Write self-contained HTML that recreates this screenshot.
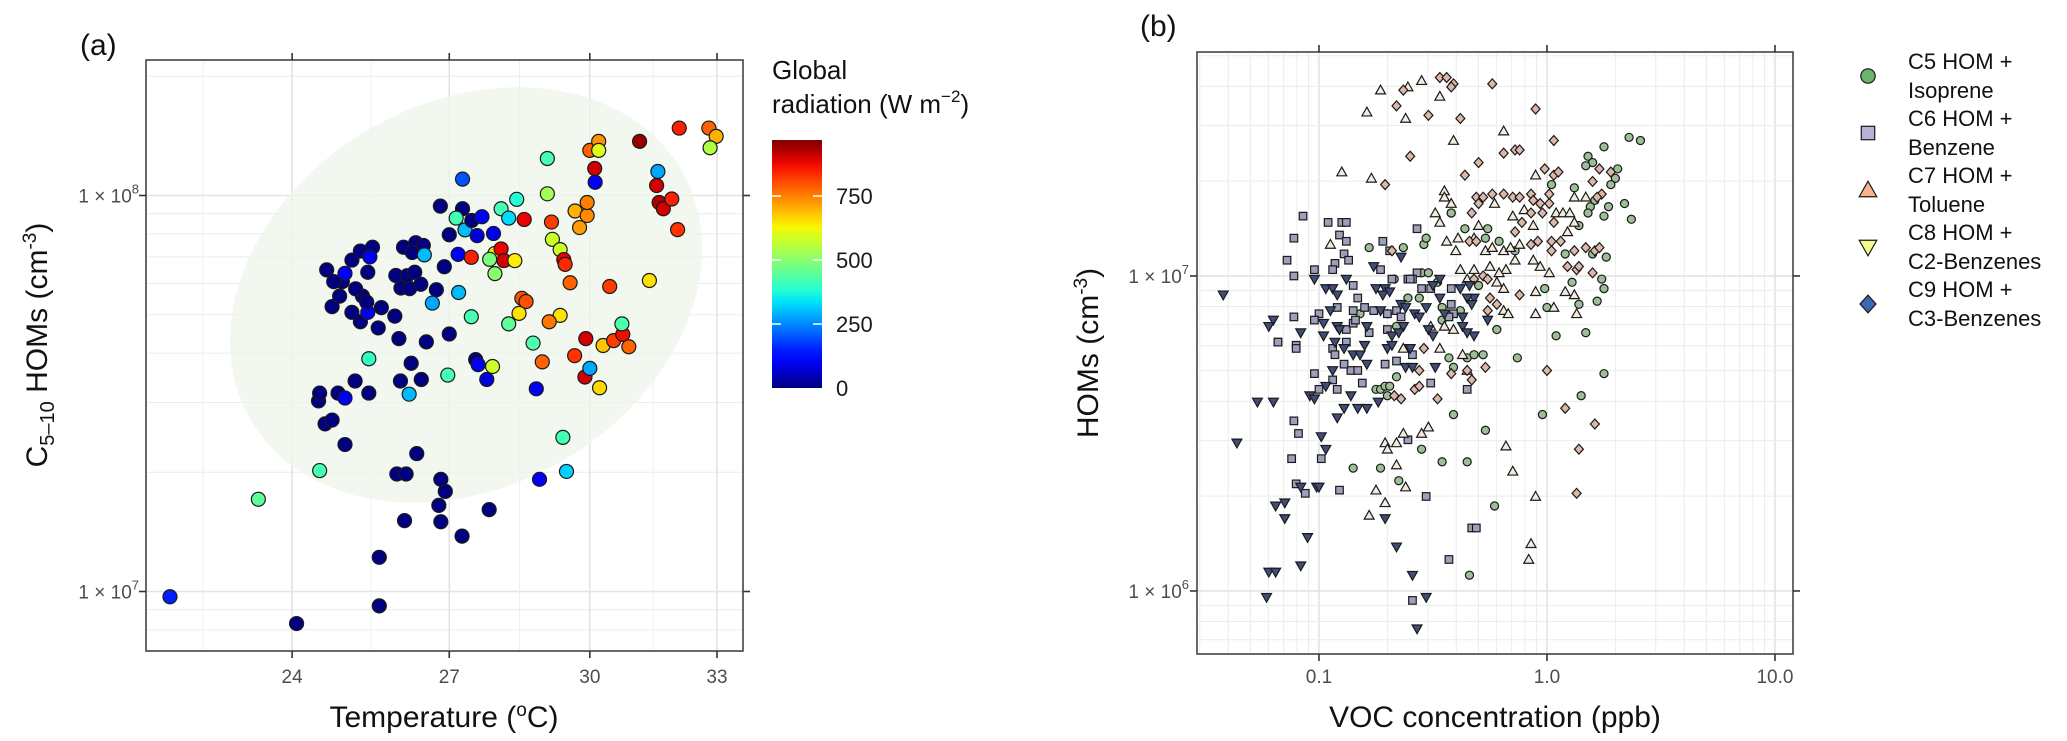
<!DOCTYPE html>
<html><head><meta charset="utf-8"><style>
html,body{margin:0;padding:0;background:#fff;}
svg{display:block;font-family:"Liberation Sans",Arial,sans-serif;}
</style></head><body>
<svg id="fig" width="2067" height="741" viewBox="0 0 2067 741" xmlns="http://www.w3.org/2000/svg">
<defs>
<linearGradient id="jetgrad" x1="0" y1="1" x2="0" y2="0"></linearGradient>
<clipPath id="clipA"><rect x="146" y="60" width="597" height="591"/></clipPath>
<clipPath id="clipB"><rect x="1197" y="52" width="596" height="602"/></clipPath>
</defs>
<g id="panelA"></g>
<g id="panelB"></g>
</svg>
<script>
// ---------- Panel (a) data ----------
const tempC = [21.9,24.08,25.62,25.62,23.4,24.5,24.97,24.6,24.73,24.48,24.5,24.84,24.97,25.42,25.16,25.42,26.03,26.2,26.44,26.24,25.96,26.14,26.35,26.11,26.83,26.92,26.79,26.83,27.26,27.82,28.89,29.48,29.4,26.97,27.0,26.54,26.0,25.6,25.26,25.66,25.92,25.4,25.1,24.73,24.87,25.3,25.38,25.17,24.92,24.76,24.63,24.97,25.1,25.4,25.26,25.49,25.44,26.09,26.33,26.48,26.26,26.5,25.94,26.16,26.04,26.21,26.31,26.43,26.74,26.66,26.9,26.82,27.0,27.27,27.14,27.32,27.46,27.57,27.67,27.91,27.18,27.19,27.45,27.27,27.45,27.54,27.59,27.77,27.89,27.94,27.83,27.94,28.07,28.13,28.36,28.07,28.23,28.4,28.56,28.51,28.6,28.45,28.23,28.75,28.95,29.06,29.06,29.15,29.17,29.34,29.42,29.45,29.34,29.1,29.56,29.67,29.77,29.94,29.94,29.66,29.89,29.91,30.0,30.22,30.3,30.54,30.75,30.89,30.73,30.45,30.0,30.2,30.2,30.11,30.12,31.14,31.37,31.57,31.54,31.6,31.7,31.9,32.04,32.08,32.8,32.98,32.83,28.82];
const homsE7 = [0.97,0.83,0.92,1.22,1.71,2.02,2.35,2.65,2.71,3.03,3.17,3.17,3.08,3.17,3.40,3.87,3.40,3.15,3.43,3.77,1.98,1.98,2.23,1.51,1.92,1.79,1.65,1.50,1.38,1.61,1.92,2.01,2.45,3.52,4.47,4.27,4.35,4.63,4.80,5.21,4.96,5.07,5.07,5.24,5.57,5.57,5.38,5.81,6.06,6.06,6.49,6.36,6.87,6.40,7.24,7.4,7.0,7.4,7.6,7.48,7.18,7.08,6.28,6.27,5.84,5.82,6.40,5.97,5.78,5.35,6.61,9.4,7.96,9.26,8.77,8.19,8.65,7.92,8.84,8.02,7.1,5.69,6.98,11.0,4.94,3.85,3.74,3.43,3.70,7.14,6.9,6.35,7.33,6.85,6.85,9.26,8.77,9.78,8.7,5.5,5.4,5.04,4.74,4.24,3.8,12.4,10.1,8.57,7.75,7.3,6.89,6.7,4.98,4.8,6.02,9.14,8.3,8.9,9.6,3.94,3.48,4.35,3.66,3.27,4.18,4.3,4.46,4.15,4.74,5.89,13.0,13.7,13.0,11.7,10.8,13.7,6.1,11.5,10.6,9.6,9.26,9.8,8.2,14.8,14.8,14.1,13.2,3.25];
const radiation = [150,0,0,0,450,420,0,0,0,0,0,0,100,0,0,400,0,300,0,0,0,0,0,0,0,0,0,0,0,0,100,320,420,420,0,0,0,0,0,0,0,100,0,0,0,0,0,0,0,0,0,100,0,0,0,0,100,0,0,0,0,300,0,0,0,0,0,0,0,280,0,0,0,0,420,300,0,80,100,100,100,300,850,200,420,0,100,80,580,650,480,500,880,900,640,420,330,380,880,800,800,650,450,430,780,420,530,820,580,580,880,840,650,760,780,700,720,740,750,830,900,900,280,660,680,820,870,780,430,820,780,730,600,900,100,950,650,280,900,930,900,850,830,850,780,700,550,100];
const tempTicks = [24,27,30,33];
const tempMinor = [22.45,25.46,28.46,31.46];
const homTicksA = [1e7,1e8];
const homTickLabelsA = ["8","7"];
const radTicks = [0,250,500,750];
const radMax = 969;

// ---------- Panel (b) data (log10 VOC ppb, log10 HOMs cm-3) ----------
const c5LogVOC = [-0.42,0.25,0.18,0.20,0.17,0.31,0.30,0.02,0.12,0.21,0.28,0.27,0.19,0.18,0.25,-0.42,0.14,-0.78,-0.63,-0.54,-0.53,-0.36,-0.26,-0.27,-0.21,-0.14,0.08,0.20,0.26,0.24,0.25,0.11,0.00,0.14,0.22,0.04,0.17,-0.01,-0.55,-0.52,-0.48,-0.30,-0.38,-0.22,-0.67,-0.61,-0.56,-0.82,-0.70,-0.66,-0.46,-0.46,-0.35,-0.32,-0.28,-0.43,-0.41,-0.13,0.25,-0.66,-0.75,-0.73,-0.71,-0.69,-0.70,-0.41,-0.02,0.15,-0.27,-0.55,-0.85,-0.73,-0.46,-0.35,-0.65,-0.23,-0.34,0.36,0.41,0.34,0.37];
const c5LogHOM = [7.20,7.41,7.38,7.36,7.35,7.34,7.31,7.29,7.28,7.24,7.29,7.22,7.22,7.20,7.19,7.20,7.16,7.09,7.09,7.10,7.12,7.15,7.15,7.12,7.11,7.08,7.07,7.07,7.06,6.99,6.96,6.98,6.90,6.91,6.92,6.81,6.82,6.96,7.01,7.01,6.98,6.97,6.89,6.83,6.99,6.93,6.93,6.88,6.88,6.84,6.86,6.90,6.74,6.75,6.75,6.74,6.71,6.74,6.69,6.68,6.64,6.64,6.65,6.65,6.62,6.56,6.56,6.62,6.51,6.45,6.39,6.39,6.41,6.41,6.35,6.27,6.05,7.44,7.43,7.23,7.18];
const c6LogVOC = [-1.07,-0.96,-0.90,-0.88,-0.57,-1.11,-0.91,-0.88,-0.72,-0.89,-0.87,-0.93,-1.14,-1.11,-1.02,-0.94,-0.69,-0.57,-0.61,-0.59,-0.42,-0.42,-0.41,-0.85,-0.83,-0.73,-0.68,-0.60,-0.55,-0.51,-1.00,-1.02,-1.11,-0.92,-0.85,-0.80,-0.76,-0.70,-0.66,-0.64,-0.70,-0.88,-0.85,-0.84,-0.78,-1.18,-1.10,-0.43,-1.18,-1.10,-0.94,-0.93,-0.88,-0.59,-1.02,-0.86,-0.83,-0.89,-0.71,-0.66,-0.35,-0.81,-0.94,-1.00,-0.92,-0.51,-1.11,-1.09,-0.99,-1.12,-0.61,-1.10,-1.06,-0.91,-0.53,-0.33,-0.31,-0.43,-0.59];
const c6LogHOM = [7.19,7.17,7.17,7.17,7.15,7.12,7.13,7.11,7.11,7.07,7.05,7.04,7.05,7.00,7.02,7.02,7.08,7.01,6.99,6.99,6.96,6.91,6.88,6.97,6.93,7.02,6.99,6.99,6.96,6.96,6.88,6.86,6.87,6.90,6.89,6.90,6.89,6.88,6.89,6.87,6.83,6.83,6.85,6.86,6.82,6.79,6.78,6.87,6.79,6.77,6.77,6.75,6.79,6.75,6.69,6.70,6.70,6.72,6.72,6.73,6.64,6.66,6.67,6.64,6.64,6.66,6.54,6.50,6.42,6.42,6.48,6.34,6.31,6.32,6.30,6.20,6.20,6.10,5.97];
const c7LogVOC = [-0.73,-0.79,-0.62,-0.61,-0.55,-0.47,-0.41,-0.19,-0.77,-0.90,-0.05,0.12,0.17,-0.45,-0.45,-0.42,-0.49,-0.47,-0.23,-0.10,0.04,0.07,0.10,0.12,0.09,-0.15,-0.06,-0.95,-0.30,-0.32,-0.39,-0.44,-0.40,-0.27,-0.24,-0.19,-0.16,-0.12,-0.06,-0.03,0.01,0.08,0.12,-0.05,0.03,0.13,-0.14,-0.18,-0.25,-0.21,-0.32,-0.38,-0.35,-0.22,-0.19,-0.05,-0.19,-0.17,-0.45,-0.41,-0.51,-0.63,-0.47,-0.37,-0.35,-0.63,-0.55,-0.52,-0.71,-0.66,-0.70,-0.66,-0.18,-0.15,-0.75,-0.62,-0.05,-0.71,-0.78,-0.07,-0.08];
const c7LogHOM = [7.59,7.52,7.50,7.60,7.62,7.57,7.43,7.46,7.31,7.33,7.32,7.25,7.25,7.27,7.25,7.23,7.20,7.17,7.23,7.21,7.20,7.20,7.20,7.17,7.14,7.19,7.16,7.10,7.16,7.12,7.12,7.11,7.08,7.08,7.09,7.08,7.09,7.10,7.05,7.03,7.01,6.95,6.94,6.88,6.90,6.88,7.05,7.02,7.03,7.01,7.02,7.02,6.99,6.98,6.96,6.95,6.89,6.88,6.84,6.83,6.84,6.77,6.77,6.75,6.70,6.50,6.50,6.52,6.47,6.47,6.45,6.40,6.46,6.38,6.32,6.33,6.30,6.28,6.24,6.15,6.10];
const c8LogVOC = [-0.64,-0.47,-0.50,-0.38,-0.34,-0.32,-0.35,-0.33,-0.37,-0.26,-0.37,-0.32,-0.35,-0.76,-1.02,-0.97,-0.94,-0.92,-0.88,-0.75,-0.71,-0.72,-0.69,-0.64,-0.62,-0.58,-0.56,-0.53,-0.47,-0.95,-0.73,-0.63,-0.68,-0.65,-0.52,-0.50,-0.98,-0.92,-0.91,-0.79,-0.98,-1.08,-1.20,-1.22,-0.45,-1.42,-0.93,-0.89,-0.85,-0.82,-0.79,-0.80,-0.70,-0.68,-0.60,-0.94,-0.62,-0.59,-0.49,-0.97,-1.04,-1.02,-0.86,-0.74,-0.79,-0.83,-0.89,-0.92,-1.27,-1.20,-0.99,-0.97,-1.36,-1.08,-1.01,-1.00,-0.71,-1.19,-1.15,-1.15,-1.05,-0.66,-1.08,-1.22,-1.19,-0.59,-1.23,-0.53,-0.57];
const c8LogHOM = [7.06,6.99,6.97,6.96,6.97,6.93,6.93,6.91,6.87,6.86,6.84,6.81,6.82,7.03,6.99,6.96,6.96,6.94,6.99,6.96,6.96,6.94,6.95,6.91,6.90,6.88,6.87,6.90,6.93,6.89,6.89,6.84,6.81,6.82,6.83,6.81,6.85,6.84,6.83,6.84,6.81,6.82,6.86,6.84,6.88,6.94,6.79,6.77,6.75,6.75,6.72,6.78,6.77,6.78,6.77,6.70,6.71,6.71,6.71,6.65,6.62,6.61,6.62,6.60,6.58,6.58,6.58,6.55,6.60,6.60,6.49,6.45,6.47,6.33,6.33,6.33,6.23,6.27,6.28,6.23,6.17,6.14,6.08,6.06,6.06,6.05,5.98,5.98,5.88];
const c9LogVOC = [-0.63,-0.66,-0.52,-0.47,-0.44,-0.41,-0.42,-0.24,-0.05,-0.38,0.03,-0.60,-0.71,-0.19,-0.14,-0.12,-0.30,-0.36,0.23,0.28,0.20,-0.01,0.03,0.05,0.24,0.22,-0.33,-0.31,-0.28,-0.24,-0.30,-0.19,-0.15,-0.12,-0.07,-0.06,-0.03,0.01,0.01,-0.07,-0.02,0.03,-0.11,-0.14,-0.68,-0.34,-0.31,-0.07,-0.04,0.02,0.06,0.12,0.17,0.21,0.23,0.02,0.09,0.13,0.14,0.20,-0.32,-0.28,-0.26,-0.25,-0.22,-0.12,-0.26,-0.54,-0.35,-0.27,0.00,-0.56,-0.42,-0.33,-0.67,-0.64,-0.58,-0.56,-0.48,0.08,0.21,0.14,0.13];
const c9LogHOM = [7.59,7.54,7.51,7.63,7.63,7.61,7.60,7.61,7.53,7.50,7.43,7.38,7.29,7.39,7.40,7.40,7.36,7.32,7.34,7.33,7.30,7.34,7.32,7.33,7.26,7.25,7.20,7.25,7.25,7.26,7.23,7.26,7.25,7.25,7.26,7.24,7.23,7.26,7.23,7.20,7.20,7.17,7.17,7.14,7.08,7.11,7.11,7.10,7.11,7.11,7.11,7.08,7.09,7.08,7.09,7.08,7.03,7.02,7.03,7.01,6.99,7.00,6.99,6.93,6.91,6.94,6.89,6.77,6.70,6.71,6.70,6.70,6.69,6.67,6.62,6.61,6.64,6.65,6.61,6.58,6.53,6.45,6.31];
const vocTicks = [-1,0,1];
const vocTickLabels = ["0.1","1.0","10.0"];
const homTicksB = [6,7];
const legendLabels1 = ["C5 HOM +","C6 HOM +","C7 HOM +","C8 HOM +","C9 HOM +"];
const legendLabels2 = ["Isoprene","Benzene","Toluene","C2-Benzenes","C3-Benzenes"];

const NS = "http://www.w3.org/2000/svg";
function el(tag, parent, attrs){ const e=document.createElementNS(NS,tag); for(const k in attrs) e.setAttribute(k,attrs[k]); parent.appendChild(e); return e; }

function jet(t){
  t=Math.max(0,Math.min(1,t));
  function pw(pts){ for(let i=0;i<pts.length-1;i++){ const a=pts[i],b=pts[i+1]; if(t>=a[0]&&t<=b[0]) return a[1]+(b[1]-a[1])*(t-a[0])/(b[0]-a[0]); } return pts[pts.length-1][1]; }
  const r=pw([[0,0],[0.35,0],[0.66,1],[0.89,1],[1,0.5]]);
  const g=pw([[0,0],[0.125,0],[0.375,1],[0.64,1],[0.91,0],[1,0]]);
  const b=pw([[0,0.5],[0.11,1],[0.34,1],[0.65,0],[1,0]]);
  return "rgb("+Math.round(r*255)+","+Math.round(g*255)+","+Math.round(b*255)+")";
}

// ================= PANEL A =================
const A = document.getElementById('panelA');
const aL=146,aR=743,aT=60,aB=651;
const tMin=21.51,tMax=33.65;
function xA(t){ return aL + (Math.log(t)-Math.log(tMin))/(Math.log(tMax)-Math.log(tMin))*(aR-aL); }
function yA(h){ return 195.5 - 396*(Math.log10(h)-8); }   // h in cm^-3

el('rect',A,{x:aL,y:aT,width:aR-aL,height:aB-aT,fill:'#fff'});
const gridA = el('g',A,{'clip-path':'url(#clipA)'});


for(let n=6;n<=8;n++) for(let k=1;k<=9;k++){
  const v=k*Math.pow(10,n), y=yA(v);
  if(y<aT||y>aB) continue;
  const ln=el('line',gridA,{x1:aL,x2:aR,y1:y,y2:y,stroke:k===1?'#e3e3e3':'#ececec','stroke-width':k===1?1.6:1});
  
  
}
tempMinor.forEach(t=>{ const x=xA(t); const ln=el('line',gridA,{x1:x,x2:x,y1:aT,y2:aB,stroke:'#efefef','stroke-width':1});
  
   });
tempTicks.forEach(t=>{ const x=xA(t); const ln=el('line',gridA,{x1:x,x2:x,y1:aT,y2:aB,stroke:'#e3e3e3','stroke-width':1.6});
  
   });

const ell = el('ellipse',gridA,{cx:466,cy:295,rx:249,ry:192,transform:'rotate(-30 466 295)',fill:'#eef5ea','fill-opacity':0.75});



const ptsA = el('g',A,{'clip-path':'url(#clipA)'});


const nA=Math.min(tempC.length,homsE7.length,radiation.length);
for(let i=0;i<nA;i++){
  const c=el('circle',ptsA,{cx:xA(tempC[i]),cy:yA(homsE7[i]*1e7),r:7,fill:jet(radiation[i]/radMax),stroke:'#1a1a1a','stroke-width':1.2});
  
  
}
const frameA=el('rect',A,{x:aL,y:aT,width:aR-aL,height:aB-aT,fill:'none',stroke:'#444','stroke-width':1.6});



tempTicks.forEach(t=>{
  const x=xA(t);
  el('line',A,{x1:x,x2:x,y1:aB,y2:aB+7,stroke:'#333','stroke-width':1.6});
  el('line',A,{x1:x,x2:x,y1:aT,y2:aT-7,stroke:'#333','stroke-width':1.6});
  const tx=el('text',A,{x:x,y:683,'text-anchor':'middle','font-size':19,fill:'#4d4d4d'});
  tx.textContent=String(t);
  
  
});
homTicksA.forEach((v,i)=>{
  const y=yA(v);
  el('line',A,{x1:aL-7,x2:aL,y1:y,y2:y,stroke:'#333','stroke-width':1.6});
  el('line',A,{x1:aR,x2:aR+7,y1:y,y2:y,stroke:'#333','stroke-width':1.6});
  const tx=el('text',A,{x:139,y:y+7,'text-anchor':'end','font-size':19,fill:'#4d4d4d'});
  tx.innerHTML='1 × 10<tspan dy="-9" font-size="13">'+String(Math.round(Math.log10(v)))+'</tspan>';
  
  
});

// colorbar
const grad=document.getElementById('jetgrad');
for(let s=0;s<=20;s++){ el('stop',grad,{offset:(s/20),'stop-color':jet(s/20)}); }
const cbT=140,cbB=388,cbL=772,cbW=50;
const cb=el('rect',A,{x:cbL,y:cbT,width:cbW,height:cbB-cbT,fill:'url(#jetgrad)'});


function yCB(v){ return cbB-(v/radMax)*(cbB-cbT); }
radTicks.forEach(v=>{
  const y=yCB(v);
  if(v>0){ el('line',A,{x1:cbL,x2:cbL+9,y1:y,y2:y,stroke:'#fff','stroke-width':1.5});
           el('line',A,{x1:cbL+cbW-9,x2:cbL+cbW,y1:y,y2:y,stroke:'#fff','stroke-width':1.5}); }
  const tx=el('text',A,{x:836,y:y+8,'font-size':22,fill:'#1a1a1a'});
  tx.textContent=String(v);
  
  
});
const cbt1=el('text',A,{x:772,y:79,'font-size':26,fill:'#111'}); cbt1.textContent='Global';


const cbt2=el('text',A,{x:772,y:113,'font-size':26,fill:'#111'});
cbt2.innerHTML='radiation (W m<tspan dy="-11" font-size="17">−2</tspan><tspan dy="11">)</tspan>';



const la=el('text',A,{x:80,y:55,'font-size':30,fill:'#111'}); la.textContent='(a)';


const xta=el('text',A,{x:444,y:727,'text-anchor':'middle','font-size':30,fill:'#111'});
xta.innerHTML='Temperature (<tspan dy="-11" font-size="19">o</tspan><tspan dy="11">C)</tspan>';


const yta=el('text',A,{x:0,y:0,'text-anchor':'middle','font-size':30,fill:'#111',transform:'translate(47,345) rotate(-90)'});
yta.innerHTML='C<tspan dy="7" font-size="20">5–10</tspan><tspan dy="-7"> HOMs (cm</tspan><tspan dy="-11" font-size="19">-3</tspan><tspan dy="11">)</tspan>';



// ================= PANEL B =================
const B=document.getElementById('panelB');
const bL=1197,bR=1793,bT=52,bB=654;
const lvMin=-1.535,lvMax=1.079,lhMax=7.711;
function xB(lv){ return bL+(lv-lvMin)/(lvMax-lvMin)*(bR-bL); }
function yB(lh){ return bT+(lhMax-lh)*315; }
el('rect',B,{x:bL,y:bT,width:bR-bL,height:bB-bT,fill:'#fff'});
const gridB=el('g',B,{'clip-path':'url(#clipB)'});


for(let n=-2;n<=1;n++) for(let k=1;k<=9;k++){
  const x=xB(n+Math.log10(k)); if(x<bL||x>bR) continue;
  const ln=el('line',gridB,{x1:x,x2:x,y1:bT,y2:bB,stroke:k===1?'#e3e3e3':'#ececec','stroke-width':k===1?1.6:1});
  
  
}
for(let n=5;n<=7;n++) for(let k=1;k<=9;k++){
  const y=yB(n+Math.log10(k)); if(y<bT||y>bB) continue;
  const ln=el('line',gridB,{x1:bL,x2:bR,y1:y,y2:y,stroke:k===1?'#e3e3e3':'#ececec','stroke-width':k===1?1.6:1});
  
  
}
function marker(parent,type,x,y,s,fill){
  let e;
  if(type==='c') e=el('circle',parent,{cx:x,cy:y,r:s*0.45,fill:fill,stroke:'#1a1a1a','stroke-width':1.2});
  else if(type==='s') e=el('rect',parent,{x:x-s*0.42,y:y-s*0.42,width:s*0.84,height:s*0.84,fill:fill,stroke:'#1a1a1a','stroke-width':1.2});
  else if(type==='t') e=el('polygon',parent,{points:[x,y-s*0.55,x+s*0.55,y+s*0.42,x-s*0.55,y+s*0.42].join(' '),fill:fill,stroke:'#1a1a1a','stroke-width':1.2});
  else if(type==='v') e=el('polygon',parent,{points:[x,y+s*0.55,x+s*0.55,y-s*0.42,x-s*0.55,y-s*0.42].join(' '),fill:fill,stroke:'#1a1a1a','stroke-width':1.2});
  else e=el('polygon',parent,{points:[x,y-s*0.55,x+s*0.5,y,x,y+s*0.55,x-s*0.5,y].join(' '),fill:fill,stroke:'#1a1a1a','stroke-width':1.2});
  return e;
}
const ptsB=el('g',B,{'clip-path':'url(#clipB)'});


const seriesB=[
  {t:'c',xs:c5LogVOC,ys:c5LogHOM,fill:'#9cbf96',name:'c5-isoprene-point'},
  {t:'s',xs:c6LogVOC,ys:c6LogHOM,fill:'#9d9fbb',name:'c6-benzene-point'},
  {t:'t',xs:c7LogVOC,ys:c7LogHOM,fill:'#f3ecdc',name:'c7-toluene-point'},
  {t:'d',xs:c9LogVOC,ys:c9LogHOM,fill:'#ddb7a8',name:'c9-c3-benzenes-point'},
  {t:'v',xs:c8LogVOC,ys:c8LogHOM,fill:'#3f4d7c',name:'c8-c2-benzenes-point'}
];
seriesB.forEach(sr=>{
  const n=Math.min(sr.xs.length,sr.ys.length);
  for(let i=0;i<n;i++){
    const m=marker(ptsB,sr.t,xB(sr.xs[i]),yB(sr.ys[i]),9,sr.fill);
    
    
  }
});
const frameB=el('rect',B,{x:bL,y:bT,width:bR-bL,height:bB-bT,fill:'none',stroke:'#444','stroke-width':1.6});


vocTicks.forEach((v,i)=>{
  const x=xB(v);
  el('line',B,{x1:x,x2:x,y1:bB,y2:bB+7,stroke:'#333','stroke-width':1.6});
  el('line',B,{x1:x,x2:x,y1:bT,y2:bT-7,stroke:'#333','stroke-width':1.6});
  const tx=el('text',B,{x:x,y:683,'text-anchor':'middle','font-size':19,fill:'#4d4d4d'});
  tx.textContent=vocTickLabels[i];
  
  
});
homTicksB.forEach(v=>{
  const y=yB(v);
  el('line',B,{x1:bL-7,x2:bL,y1:y,y2:y,stroke:'#333','stroke-width':1.6});
  el('line',B,{x1:bR,x2:bR+7,y1:y,y2:y,stroke:'#333','stroke-width':1.6});
  const tx=el('text',B,{x:1189,y:y+7,'text-anchor':'end','font-size':19,fill:'#4d4d4d'});
  tx.innerHTML='1 × 10<tspan dy="-9" font-size="13">'+String(v)+'</tspan>';
  
  
});
const lb=el('text',B,{x:1140,y:36,'font-size':30,fill:'#111'}); lb.textContent='(b)';


const xtb=el('text',B,{x:1495,y:727,'text-anchor':'middle','font-size':30,fill:'#111'}); xtb.textContent='VOC concentration (ppb)';


const ytb=el('text',B,{x:0,y:0,'text-anchor':'middle','font-size':30,fill:'#111',transform:'translate(1098,353) rotate(-90)'});
ytb.innerHTML='HOMs (cm<tspan dy="-11" font-size="19">-3</tspan><tspan dy="11">)</tspan>';



// legend
const legTypes=['c','s','t','v','d'];
const legFills=['#6db36d','#b9b2d8','#f5b48e','#f7f78f','#3c67b1'];
const leg=el('g',B,{});


legTypes.forEach((t,i)=>{
  const sy=76+i*57;
  const m=marker(leg,t,1868,sy,16,legFills[i]);
  
  
  const t1=el('text',leg,{x:1908,y:sy-7,'font-size':22,fill:'#111'}); t1.textContent=legendLabels1[i];
  
  
  const t2=el('text',leg,{x:1908,y:sy+22,'font-size':22,fill:'#111'}); t2.textContent=legendLabels2[i];
  
  
});
</script>
</body></html>
